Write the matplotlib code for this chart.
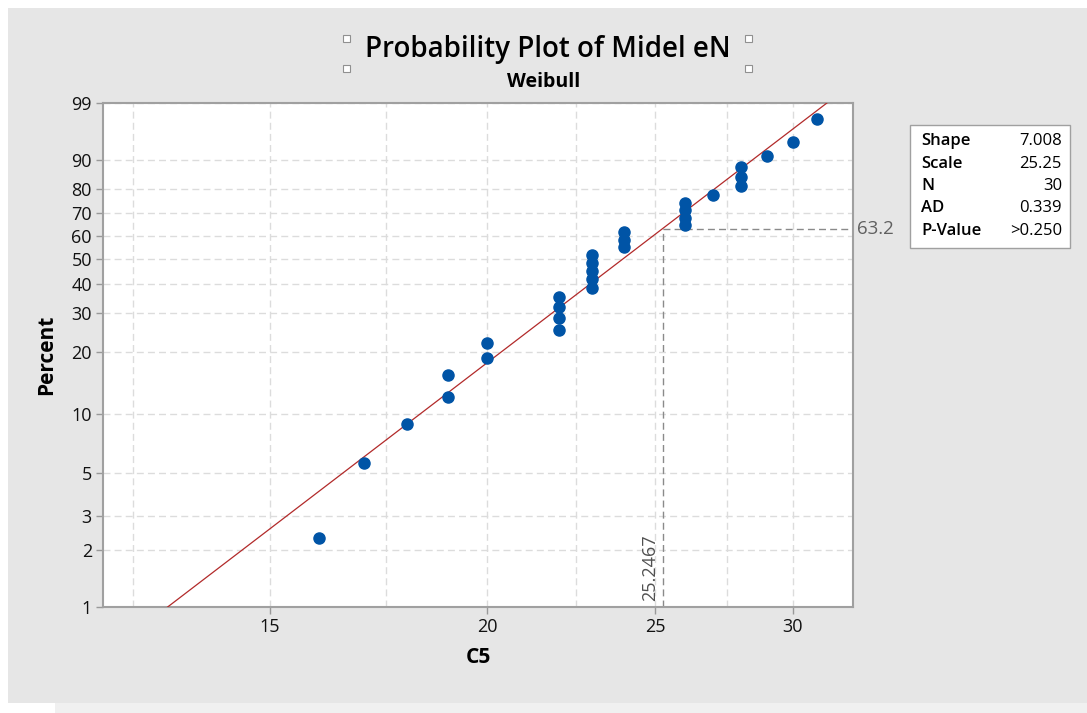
import numpy as np
import matplotlib
matplotlib.use("Agg")
import matplotlib.pyplot as plt
from matplotlib.patches import Rectangle
from matplotlib.ticker import FixedLocator, NullFormatter

# C5 sample values (n = 30)
c5 = [16, 17, 18, 19, 19, 20, 20,
      22, 22, 22, 22,
      23, 23, 23, 23, 23,
      24, 24, 24,
      26, 26, 26, 26,
      27, 28, 28, 28, 29, 30, 31]
shape = 7.008
scale = 25.2467
stats_names = ["Shape", "Scale", "N", "AD", "P-Value"]
stats_vals = ["7.008", "25.25", "30", "0.339", ">0.250"]
pct_ticks = [1, 2, 3, 5, 10, 20, 30, 40, 50, 60, 70, 80, 90, 99]
x_ticks = [15, 20, 25, 30]
x_minor = [12.5, 17.5, 22.5, 27.5]

plt.rcParams['font.family'] = ['Open Sans', 'DejaVu Sans']

def weib_fwd(p):
    p = np.clip(np.asarray(p, dtype=float), 1e-6, 100 - 1e-6)
    return np.log(-np.log(1 - p / 100.0))

def weib_inv(y):
    return 100.0 * (1 - np.exp(-np.exp(np.asarray(y, dtype=float))))

n = len(c5)
x = np.sort(np.array(c5, dtype=float))
ranks = (np.arange(1, n + 1) - 0.3) / (n + 0.4) * 100  # median ranks

fig = plt.figure(figsize=(10.87, 7.13), dpi=100, facecolor="white")
fig.patches.append(Rectangle((8 / 1087, 10 / 713), 1, 695 / 713, transform=fig.transFigure,
                             facecolor="#e6e6e6", edgecolor="none", zorder=-10))
fig.patches.append(Rectangle((55 / 1087, 0), 1, 10 / 713, transform=fig.transFigure,
                             facecolor="#f0f0f0", edgecolor="none", zorder=-10))

ax = fig.add_axes([103 / 1087, 1 - 607 / 713, 750 / 1087, 504 / 713])
ax.set_xscale("log")
ax.set_yscale("function", functions=(weib_fwd, weib_inv))
ax.set_xlim(12.02, 32.5)
ax.set_ylim(1, 99)

# fitted line
pline = np.array([1, 99.0])
xline = scale * (-np.log(1 - pline / 100)) ** (1 / shape)
ax.plot(xline, pline, color="#b22a2a", lw=0.9, zorder=3)

ax.plot(x, ranks, "o", color="#0054a6", ms=8, mec="#0054a6", zorder=4)

# reference lines at 63.2
p632 = 63.2
ax.plot([scale, 32.5], [p632, p632], color="#8a8a8a", lw=1, ls=(0, (5, 3)), zorder=2, clip_on=False)
ax.plot([scale, scale], [1, p632], color="#8a8a8a", lw=1, ls=(0, (5, 3)), zorder=2)
ax.text(32.5 * 1.005, p632, "63.2", ha="left", va="center", fontsize=13.5, color="#606060")
ax.text(scale * 0.995, 1.08, "25.2467", ha="right", va="bottom", rotation=90,
        fontsize=13, color="#505050")

ax.xaxis.set_major_locator(FixedLocator(x_ticks))
ax.xaxis.set_minor_locator(FixedLocator(x_minor))
ax.xaxis.set_minor_formatter(NullFormatter())
ax.set_xticklabels([str(t) for t in x_ticks])
ax.yaxis.set_major_locator(FixedLocator(pct_ticks))
ax.yaxis.set_minor_locator(FixedLocator([]))
ax.set_yticklabels([str(t) for t in pct_ticks])

ax.grid(True, which="both", color="#dcdcdc", ls=(0, (5, 3)), lw=1)
ax.set_axisbelow(True)
ax.tick_params(which="major", length=5, width=1, color="#999999", labelsize=13, pad=3,
               labelcolor="#111111")
ax.tick_params(which="minor", length=0)
for s in ax.spines.values():
    s.set_color("#a0a0a0")
    s.set_linewidth(1.5)

ax.set_xlabel("C5", fontsize=15, fontweight="bold", labelpad=8)
ax.set_ylabel("Percent", fontsize=15, fontweight="bold", labelpad=10)

fig.text(548 / 1087, 1 - 50 / 713, "Probability Plot of Midel eN", ha="center", va="center",
         fontsize=20, fontweight="semibold")
fig.text(544 / 1087, 1 - 82 / 713, "Weibull", ha="center", va="center", fontsize=14,
         fontweight="bold")
for hx, hy in [(346, 38), (748, 38), (346, 68), (748, 68)]:
    fig.patches.append(Rectangle(((hx - 3.5) / 1087, 1 - (hy + 3.5) / 713), 7 / 1087, 7 / 713,
                                 transform=fig.transFigure, facecolor="white",
                                 edgecolor="#909090", lw=0.8))

# stats box
fig.patches.append(Rectangle((910 / 1087, 1 - 248 / 713), 160 / 1087, 123 / 713,
                             transform=fig.transFigure, facecolor="white",
                             edgecolor="#a0a0a0", lw=1))
for i, (nm, v) in enumerate(zip(stats_names, stats_vals)):
    yy = 1 - (141 + i * 22.5) / 713
    fig.text(921 / 1087, yy, nm, ha="left", va="center", fontsize=12, fontweight="semibold")
    fig.text(1062 / 1087, yy, v, ha="right", va="center", fontsize=12, fontweight="medium")

fig.savefig("out.png", dpi=100, facecolor=fig.get_facecolor())
